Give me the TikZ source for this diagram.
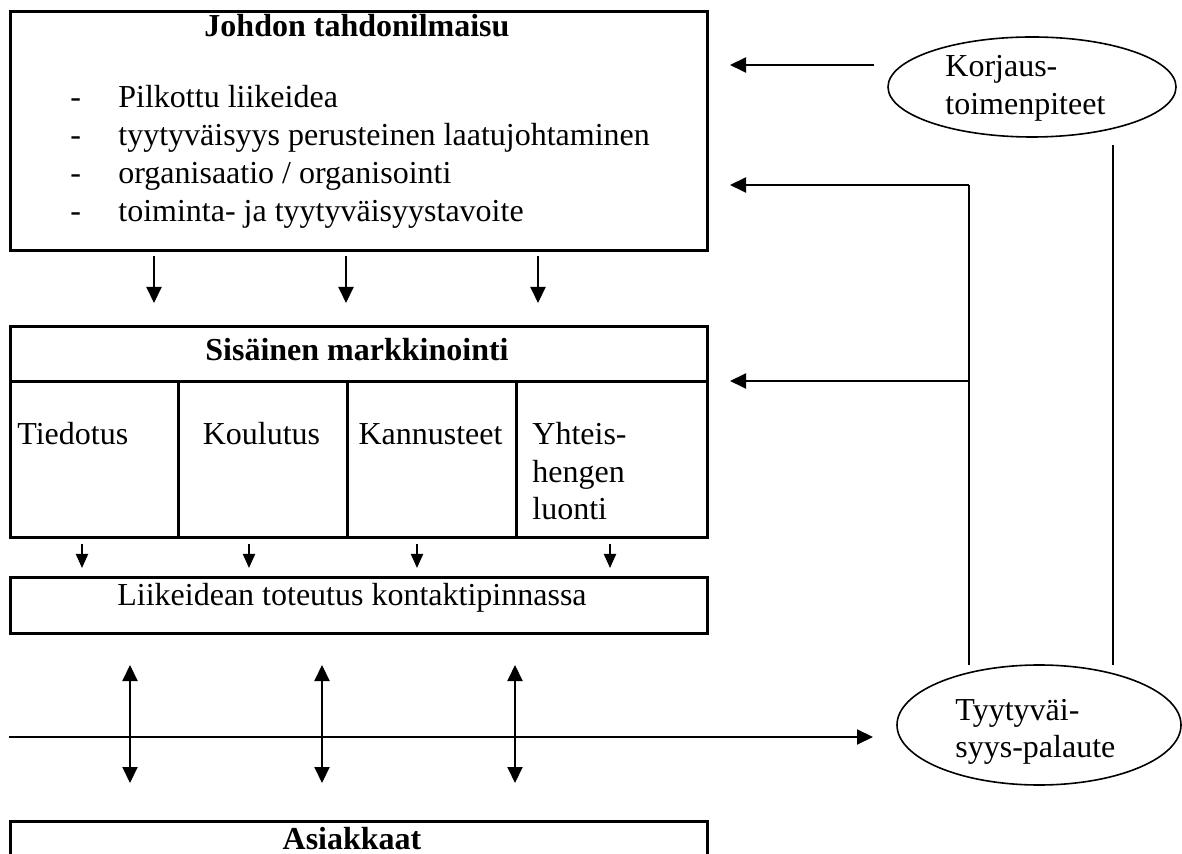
\documentclass[tikz,border=0pt]{standalone}
\usepackage{fontspec}
\setmainfont{Liberation Serif}
\usetikzlibrary{arrows.meta,shapes.geometric}
\begin{document}
\begin{tikzpicture}[x=0.5pt,y=-0.5pt,
  box/.style={draw, line width=1.5pt, rectangle, inner sep=0pt, anchor=north west},
  txt/.style={inner sep=0pt, font=\fontsize{16}{18.75}\selectfont},
  btxt/.style={inner sep=0pt, font=\fontsize{16}{18.75}\selectfont\bfseries},
  arr/.style={line width=1pt, -{Triangle[length=8pt,width=7.5pt]}},
  sarr/.style={line width=1pt, -{Triangle[length=7pt,width=6pt]}},
  darr/.style={line width=1pt, {Triangle[length=8pt,width=7.5pt]}-{Triangle[length=8pt,width=7.5pt]}},
  thinline/.style={line width=0.8pt},
  oval/.style={draw, ellipse, line width=0.8pt, inner sep=0pt}
]
\useasboundingbox (0,0) rectangle (1182,854);

% boxes
\node[box, minimum width=348.5pt, minimum height=119.5pt] (johto) at (9,10) {};
\node[box, minimum width=348.5pt, minimum height=27.5pt] (sis) at (9,325) {};
\node[box, minimum width=84pt, minimum height=78pt] (c1) at (9,380) {};
\node[box, minimum width=84.5pt, minimum height=78pt] (c2) at (177,380) {};
\node[box, minimum width=84.5pt, minimum height=78pt] (c3) at (346,380) {};
\node[box, minimum width=95.5pt, minimum height=78pt] (c4) at (515,380) {};
\node[box, minimum width=348.5pt, minimum height=28pt] (liike) at (9,576) {};
\node[box, minimum width=348.5pt, minimum height=30pt] (asiak) at (9,820) {};

% texts
\node[btxt, anchor=base] (tjohto) at (357,37) {Johdon tahdonilmaisu};
\node[txt, anchor=base west] (d1) at (70,108) {-};
\node[txt, anchor=base west] (d2) at (70,146) {-};
\node[txt, anchor=base west] (d3) at (70,184) {-};
\node[txt, anchor=base west] (d4) at (70,222) {-};
\node[txt, anchor=base west] (l1) at (118,108) {Pilkottu liikeidea};
\node[txt, anchor=base west] (l2) at (118,146) {tyytyväisyys perusteinen laatujohtaminen};
\node[txt, anchor=base west] (l3) at (118,184) {organisaatio / organisointi};
\node[txt, anchor=base west] (l4) at (118,222) {toiminta- ja tyytyväisyystavoite};

\node[btxt, anchor=base] (tsis) at (357,361) {Sisäinen markkinointi};
\node[txt, anchor=base west] (tc1) at (17,445) {Tiedotus};
\node[txt, anchor=base] (tc2) at (261.5,445) {Koulutus};
\node[txt, anchor=base] (tc3) at (430.5,445) {Kannusteet};
\node[txt, anchor=base west] (tc4a) at (532,445) {Yhteis-};
\node[txt, anchor=base west] (tc4b) at (532,483) {hengen};
\node[txt, anchor=base west] (tc4c) at (532,520) {luonti};

\node[txt, anchor=base] (tliike) at (352,605) {Liikeidean toteutus kontaktipinnassa};
\node[btxt, anchor=base] (tasiak) at (352,849) {Asiakkaat};

% ellipses
\node[oval, minimum width=144pt, minimum height=50pt] (korj) at (1032,87) {};
\node[txt, anchor=base west] (tkorj1) at (945,77) {Korjaus-};
\node[txt, anchor=base west] (tkorj2) at (945,115) {toimenpiteet};
\node[oval, minimum width=142pt, minimum height=60pt] (tyyt) at (1039,725) {};
\node[txt, anchor=base west] (ttyyt1) at (955,720) {Tyytyväi-};
\node[txt, anchor=base west] (ttyyt2) at (955,757) {syys-palaute};

% arrow end points
\foreach \x [count=\i] in {154,346,538} {
  \coordinate (da\i) at (\x,256);
  \coordinate (db\i) at (\x,303);
  \draw[arr] (da\i) -- (db\i);
}
\foreach \x [count=\i] in {82,249,417,610} {
  \coordinate (sa\i) at (\x,544);
  \coordinate (sb\i) at (\x,568);
  \draw[sarr] (sa\i) -- (sb\i);
}
\foreach \x [count=\i] in {130,322,515} {
  \coordinate (ua\i) at (\x,665);
  \coordinate (ub\i) at (\x,783);
  \draw[darr] (ua\i) -- (ub\i);
}
\coordinate (hstart) at (9,737);
\coordinate (hend) at (873,737);
\draw[arr] (hstart) -- (hend);

\coordinate (kstart) at (874,65);
\coordinate (kend) at (730,65);
\draw[arr] (kstart) -- (kend);

\coordinate (fbot) at (969,665);
\coordinate (fcorner) at (969,185);
\coordinate (fend1) at (730,185);
\coordinate (fmid) at (969,381);
\coordinate (fend2) at (730,381);
\draw[thinline] (fbot) -- (fcorner);
\draw[arr] (fcorner) -- (fend1);
\draw[arr] (fmid) -- (fend2);

\coordinate (rbot) at (1113,665);
\coordinate (rtop) at (1113,145);
\draw[thinline] (rbot) -- (rtop);
\end{tikzpicture}
\end{document}
